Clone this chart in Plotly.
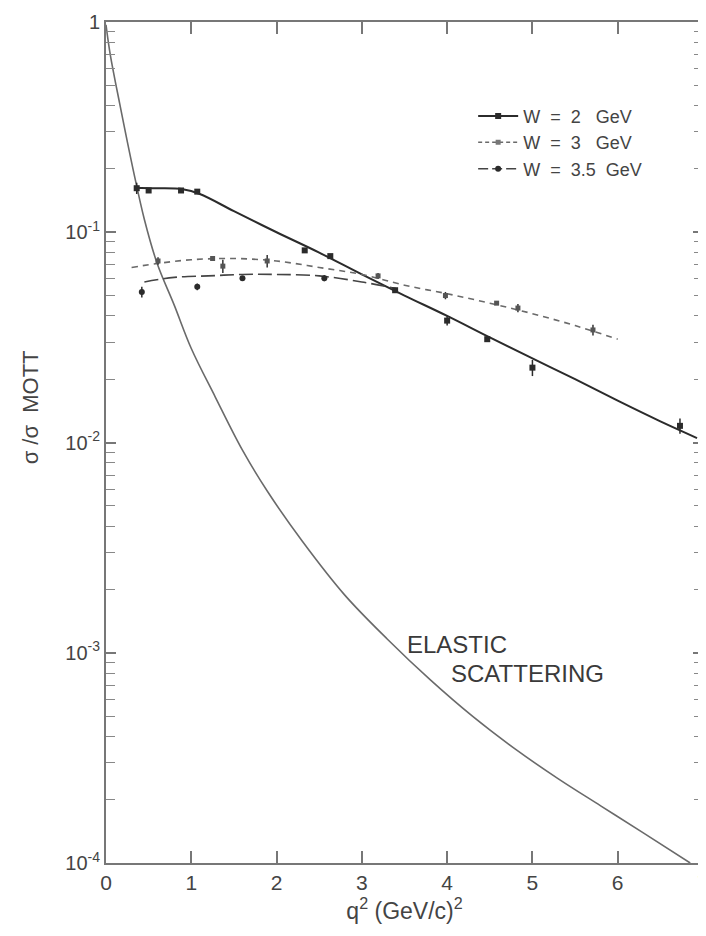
import plotly.graph_objects as go

# ---- data ----
# elastic scattering curve
el_q2 = [0.0, 0.05, 0.16, 0.32, 0.45, 0.6, 0.8, 1.0, 1.28, 1.6, 1.9, 2.3, 2.8, 3.3, 3.8, 4.3, 4.8, 5.3, 5.8, 6.3, 6.85]
el_y = [0.97, 0.70, 0.41, 0.197, 0.115, 0.071, 0.045, 0.028, 0.0165, 0.0092, 0.0058, 0.0034, 0.00188, 0.00116,
        0.000745, 0.000498, 0.000348, 0.000252, 0.000187, 0.000139, 0.000100]

# fitted curves
w2_fit_q2 = [0.33, 0.6, 0.9, 1.1, 1.5, 2.0, 2.5, 3.0, 3.5, 4.0, 4.5, 5.0, 5.5, 6.0, 6.5, 6.93]
w2_fit_y = [0.163, 0.162, 0.160, 0.152, 0.126, 0.100, 0.080, 0.063, 0.050, 0.040, 0.0316, 0.0251, 0.0200, 0.0158, 0.0126, 0.0105]
w3_fit_q2 = [0.3, 0.6, 1.0, 1.5, 2.0, 2.5, 3.0, 3.5, 4.0, 4.5, 5.0, 5.5, 6.0]
w3_fit_y = [0.068, 0.071, 0.074, 0.075, 0.073, 0.068, 0.063, 0.056, 0.051, 0.046, 0.041, 0.036, 0.031]
w35_fit_q2 = [0.45, 0.8, 1.2, 1.6, 2.0, 2.5, 3.0, 3.4]
w35_fit_y = [0.058, 0.061, 0.062, 0.063, 0.063, 0.062, 0.058, 0.054]

# measured points
w2_q2 = [0.36, 0.50, 0.88, 1.07, 2.33, 2.63, 3.39, 4.0, 4.47, 5.0, 6.73]
w2_y = [0.162, 0.158, 0.158, 0.156, 0.082, 0.077, 0.053, 0.038, 0.031, 0.0227, 0.012]
w2_err = [0.01, 0, 0, 0, 0, 0, 0, 0.002, 0, 0.002, 0.001]
w3_q2 = [0.61, 1.25, 1.37, 1.89, 3.19, 3.98, 4.58, 4.83, 5.71]
w3_y = [0.073, 0.075, 0.069, 0.073, 0.062, 0.050, 0.046, 0.0436, 0.0343]
w3_err = [0.003, 0.002, 0.005, 0.005, 0.002, 0.002, 0, 0.002, 0.002]
w35_q2 = [0.42, 1.07, 1.60, 2.56]
w35_y = [0.052, 0.055, 0.0605, 0.0605]
w35_err = [0.003, 0.002, 0, 0.002]

legend_names = ["W  =  2   GeV", "W  =  3   GeV", "W  =  3.5  GeV"]
x_ticks = [0, 1, 2, 3, 4, 5, 6, 7]
y_ticks = [1e-4, 1e-3, 1e-2, 1e-1, 1]
y_ticktext = ["10<sup>-4</sup>", "10<sup>-3</sup>", "10<sup>-2</sup>", "10<sup>-1</sup>", "1"]
y_minor = [k * 10.0 ** e for e in range(-4, 0) for k in range(2, 10)]

INK = "#2b2b2b"
GRAY = "#6a6a6a"
FONT = "Liberation Sans, Arial, sans-serif"

fig = go.Figure()

# elastic curve
fig.add_trace(go.Scatter(x=el_q2, y=el_y, mode="lines", line=dict(color=GRAY, width=1.6, shape="spline"),
                         showlegend=False, hoverinfo="skip"))
# fit lines
fig.add_trace(go.Scatter(x=w2_fit_q2, y=w2_fit_y, mode="lines", line=dict(color=INK, width=2, shape="spline"),
                         showlegend=False))
fig.add_trace(go.Scatter(x=w3_fit_q2, y=w3_fit_y, mode="lines",
                         line=dict(color=GRAY, width=1.6, dash="6px,5px", shape="spline"), showlegend=False))
fig.add_trace(go.Scatter(x=w35_fit_q2, y=w35_fit_y, mode="lines",
                         line=dict(color="#444", width=1.6, dash="14px,5px", shape="spline"), showlegend=False))
# data points
fig.add_trace(go.Scatter(x=w2_q2, y=w2_y, mode="markers",
                         marker=dict(symbol="square", size=6, color=INK),
                         error_y=dict(type="data", array=w2_err, color=INK, thickness=1.5, width=0),
                         showlegend=False))
fig.add_trace(go.Scatter(x=w3_q2, y=w3_y, mode="markers",
                         marker=dict(symbol="square", size=5, color="#555"),
                         error_y=dict(type="data", array=w3_err, color="#333", thickness=1.5, width=0),
                         showlegend=False))
fig.add_trace(go.Scatter(x=w35_q2, y=w35_y, mode="markers",
                         marker=dict(symbol="circle", size=6, color=INK),
                         error_y=dict(type="data", array=w35_err, color=INK, thickness=1.5, width=0),
                         showlegend=False))

# legend entries
fig.add_trace(go.Scatter(x=[None], y=[None], mode="lines+markers", name=legend_names[0],
                         marker=dict(symbol="square", size=6, color=INK), line=dict(color=INK, width=2)))
fig.add_trace(go.Scatter(x=[None], y=[None], mode="lines+markers", name=legend_names[1],
                         marker=dict(symbol="square", size=5, color="#777"),
                         line=dict(color=GRAY, width=1.6, dash="4px,3px")))
fig.add_trace(go.Scatter(x=[None], y=[None], mode="lines+markers", name=legend_names[2],
                         marker=dict(symbol="circle", size=6, color=INK),
                         line=dict(color="#444", width=1.6, dash="10px,4px")))

fig.add_annotation(x=3.5, y=-2.96, xref="x", yref="y", text="ELASTIC", showarrow=False,
                   xanchor="left", yanchor="middle", xshift=0, font=dict(size=24, color="#3a3a3a", family=FONT))
fig.add_annotation(x=4.02, y=-3.10, xref="x", yref="y", text="SCATTERING", showarrow=False,
                   xanchor="left", yanchor="middle", xshift=0, font=dict(size=24, color="#3a3a3a", family=FONT))
fig.add_annotation(x=-0.127, y=0.542, xref="paper", yref="paper", text="σ /σ  MOTT", textangle=-90,
                   showarrow=False, xanchor="center", yanchor="middle",
                   font=dict(size=22, color="#444", family=FONT))

fig.update_xaxes(range=[0, 7], tickvals=x_ticks, ticks="inside", ticklen=12, tickwidth=1.5, tickcolor="#777",
                 showline=True, linecolor="#777", linewidth=2, mirror="ticks", showgrid=False, zeroline=False,
                 ticklabeloverflow="allow",
                 tickfont=dict(size=21, color="#444", family=FONT),
                 title=dict(text="q<sup>2</sup> (GeV/c)<sup>2</sup>", font=dict(size=23, color="#444", family=FONT),
                            standoff=6))
fig.update_yaxes(type="log", range=[-4, 0], tickvals=y_ticks, ticktext=y_ticktext, ticks="inside", ticklen=10,
                 tickwidth=1.5, tickcolor="#777", showline=True, linecolor="#777", linewidth=2, mirror="ticks",
                 showgrid=False, zeroline=False, ticklabeloverflow="allow",
                 tickfont=dict(size=20, color="#444", family=FONT),
                 minor=dict(tickvals=y_minor, ticks="inside", ticklen=9, tickcolor="#888", tickwidth=1.3,
                            showgrid=False))

fig.update_layout(
    width=704, height=920,
    margin=dict(l=98, r=3, t=10, b=65),
    paper_bgcolor="white", plot_bgcolor="white",
    font=dict(family=FONT, color="#444"),
    legend=dict(x=0.615, y=0.91, xanchor="left", yanchor="top", bgcolor="rgba(0,0,0,0)",
                font=dict(size=18, color="#444", family=FONT), tracegroupgap=0, itemwidth=40),
    showlegend=True,
)

fig.write_html("out.html")
